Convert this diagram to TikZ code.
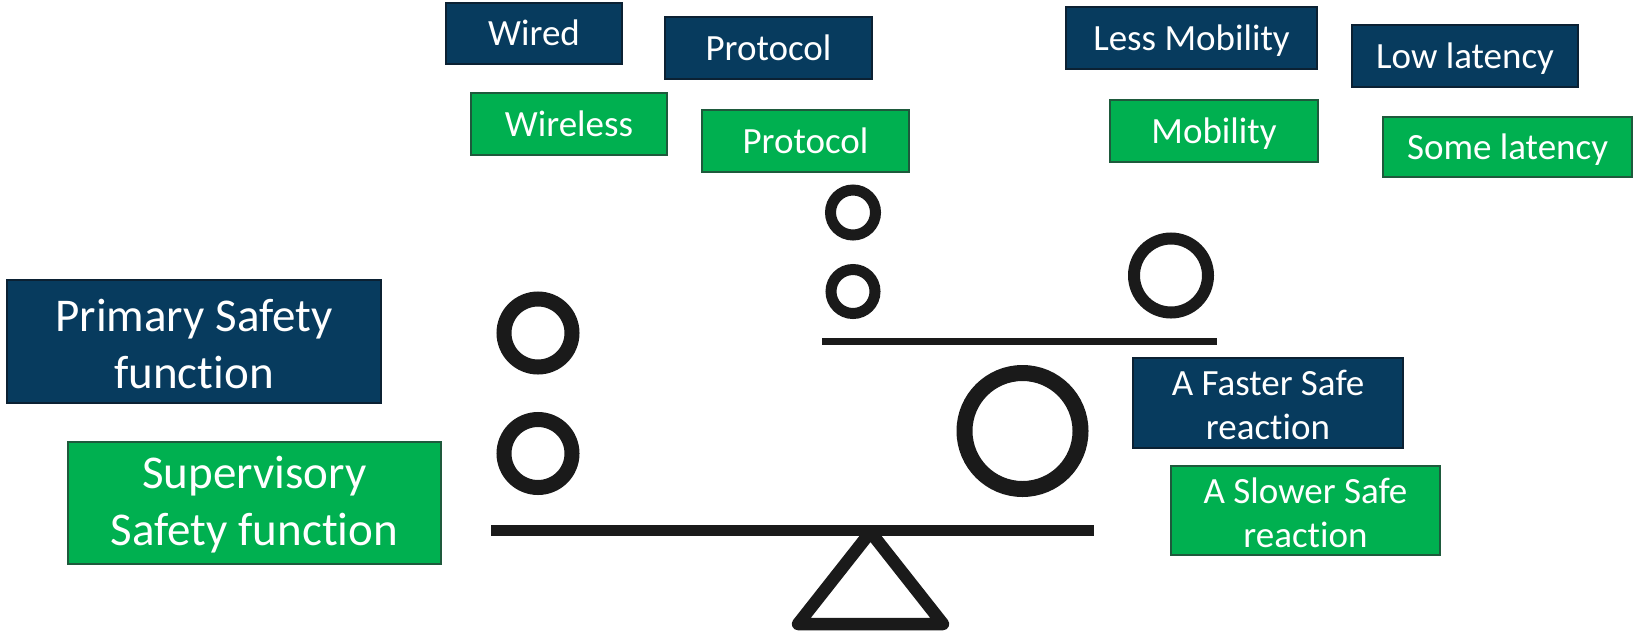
\documentclass[tikz,border=0pt]{standalone}
\usepackage{fontspec}
\setmainfont{Carlito}[Ligatures=NoCommon]
\definecolor{navyfill}{HTML}{073B5E}
\definecolor{navyline}{HTML}{0B2133}
\definecolor{greenfill}{HTML}{00B050}
\definecolor{greenline}{HTML}{1E5A3C}
\definecolor{ink}{HTML}{1A1A1A}
\tikzset{
  boxbase/.style={rectangle, inner sep=0pt, line width=2.5pt},
  txtbase/.style={text=white, align=center, inner sep=0pt,
    font=\fontsize{37}{44}\selectfont},
  txt/.style={txtbase, text height=24pt, text depth=0pt},
  txttwo/.style={txtbase, yshift=-2pt},
  bigtxt/.style={txtbase, yshift=-2pt, font=\fontsize{47}{57}\selectfont},
  navybox/.style={boxbase, fill=navyfill, draw=navyline},
  greenbox/.style={boxbase, fill=greenfill, draw=greenline},
  ring/.style={draw=ink},
  beam/.style={draw=ink},
}
\begin{document}
\begin{tikzpicture}[x=1pt,y=-1pt]
\useasboundingbox (0,0) rectangle (1634,638);
% top labels
\node[navybox, minimum width=176, minimum height=61, label={[txt]center:Wired}] (wired) at (534,33.5) {};
\node[navybox, minimum width=207, minimum height=62, label={[txt]center:Protocol}] (protA) at (768.5,48) {};
\node[greenbox, minimum width=196, minimum height=62, label={[txt]center:Wireless}] (wireless) at (569,124) {};
\node[greenbox, minimum width=207, minimum height=62, label={[txt]center:Protocol}] (protB) at (805.5,141) {};
\node[navybox, minimum width=251, minimum height=62, label={[txt]center:Less Mobility}] (lessmob) at (1191.5,38) {};
\node[navybox, minimum width=226, minimum height=62, label={[txt]center:Low latency}] (lowlat) at (1465,56) {};
\node[greenbox, minimum width=208, minimum height=62, label={[txt]center:Mobility}] (mob) at (1214,131) {};
\node[greenbox, minimum width=249, minimum height=60, label={[txt]center:Some latency}] (somelat) at (1507.5,147) {};
% left labels
\node[navybox, minimum width=374, minimum height=123, label={[bigtxt]center:{Primary Safety\\function}}] (primary) at (194,341.5) {};
\node[greenbox, minimum width=373, minimum height=122, label={[bigtxt]center:{Supervisory\\Safety function}}] (superv) at (254.5,503) {};
% right labels
\node[navybox, minimum width=270, minimum height=90, label={[txttwo]center:{A Faster Safe\\reaction}}] (faster) at (1268,403) {};
\node[greenbox, minimum width=269, minimum height=89, label={[txttwo]center:{A Slower Safe\\reaction}}] (slower) at (1305.5,510.5) {};
% rings
\draw[ring, line width=15pt] (538,333) circle[radius=34pt];
\draw[ring, line width=15pt] (538,453.5) circle[radius=34pt];
\draw[ring, line width=11pt] (853,212.5) circle[radius=22.5pt];
\draw[ring, line width=11pt] (853,291.5) circle[radius=22pt];
\draw[ring, line width=12pt] (1171,275.5) circle[radius=37pt];
\draw[ring, line width=16pt] (1022.5,431) circle[radius=58pt];
% fulcrum
\coordinate (apex) at (870.5,532);
\coordinate (bl) at (798,624);
\coordinate (br) at (943,624);
\draw[draw=ink, line width=12.5pt, line join=round] (apex) -- (bl) -- (br) -- cycle;
% beams
\coordinate (ubl) at (822,341.5);
\coordinate (ubr) at (1217,341.5);
\draw[beam, line width=7pt] (ubl) -- (ubr);
\coordinate (lbl) at (491,530.5);
\coordinate (lbr) at (1094,530.5);
\draw[beam, line width=11pt] (lbl) -- (lbr);
\end{tikzpicture}
\end{document}
